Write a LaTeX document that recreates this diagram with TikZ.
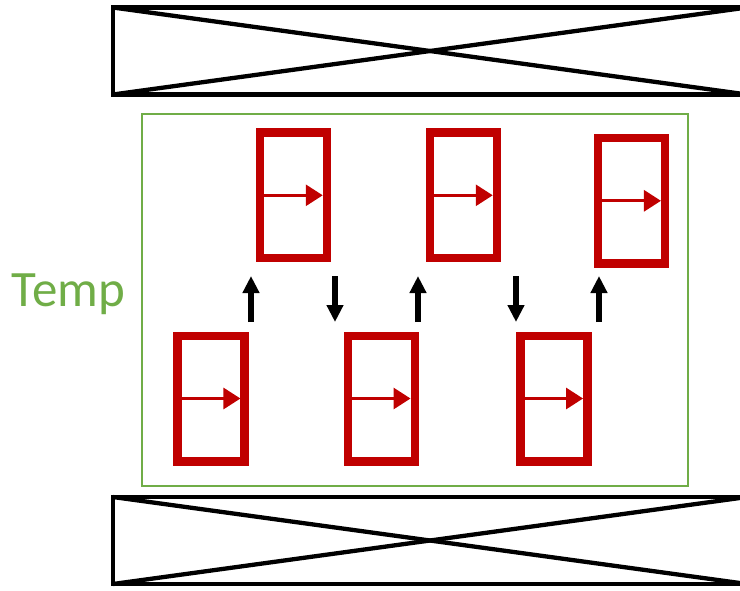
\documentclass[tikz,border=0pt]{standalone}
\usepackage{fontspec}
\newfontfamily\labelfont{Carlito}
\usetikzlibrary{arrows.meta}
\definecolor{boxred}{HTML}{C00000}
\definecolor{framegreen}{HTML}{70AD47}
\tikzset{
  xbox/.style={draw=black, line width=4.3pt, minimum width=634pt, minimum height=87pt, inner sep=0pt, outer sep=0pt},
  xline/.style={draw=black, line width=4.3pt},
  redbox/.style={draw=boxred, line width=8.5pt, minimum width=67pt, minimum height=125.5pt, inner sep=0pt, outer sep=0pt},
  inarrow/.style={draw=boxred, line width=3pt, -{Triangle[length=17pt,width=21pt]}},
  blackarrow/.style={draw=black, line width=6pt, -{Triangle[length=17pt,width=16pt]}},
  frame/.style={draw=framegreen, line width=2pt}
}
\begin{document}
\begin{tikzpicture}[x=1pt,y=-1pt]
\useasboundingbox (0,0) rectangle (740,590);
% top and bottom crossed boxes
\node[xbox] (top) at (430,51) {};
\draw[xline] (top.north west) -- (top.south east);
\draw[xline] (top.south west) -- (top.north east);
\node[xbox] (bot) at (430,540.5) {};
\draw[xline] (bot.north west) -- (bot.south east);
\draw[xline] (bot.south west) -- (bot.north east);
% green frame
\node[frame, minimum width=545.7pt, minimum height=372pt, inner sep=0pt, outer sep=0pt] (fr) at (414.85,300.3) {};
\node[anchor=base west, inner sep=0pt, text=framegreen, font=\labelfont\fontsize{51}{51}\selectfont] (temp) at (11.5,306) {Temp};
% red boxes
\node[redbox] (b1) at (293.5,195.3) {};
\node[redbox] (b2) at (463.5,195.3) {};
\node[redbox] (b3) at (631.7,200.8) {};
\node[redbox] (b4) at (211.2,398.5) {};
\node[redbox] (b5) at (381.3,398.5) {};
\node[redbox] (b6) at (553.8,398.5) {};
\foreach \b in {b1,b2,b3,b4,b5,b6}{
  \draw[inarrow] ([xshift=4pt]\b.west) -- ([xshift=-4.25pt]\b.east);
}
% black arrows
\coordinate (a1l) at (251,322); \coordinate (a1h) at (251,276);
\coordinate (a2l) at (335,322); \coordinate (a2h) at (335,276);
\coordinate (a3l) at (418,322); \coordinate (a3h) at (418,276);
\coordinate (a4l) at (516,322); \coordinate (a4h) at (516,276);
\coordinate (a5l) at (599,322); \coordinate (a5h) at (599,276);
\draw[blackarrow] (a1l) -- (a1h);
\draw[blackarrow] (a2h) -- (a2l);
\draw[blackarrow] (a3l) -- (a3h);
\draw[blackarrow] (a4h) -- (a4l);
\draw[blackarrow] (a5l) -- (a5h);
\end{tikzpicture}
\end{document}
